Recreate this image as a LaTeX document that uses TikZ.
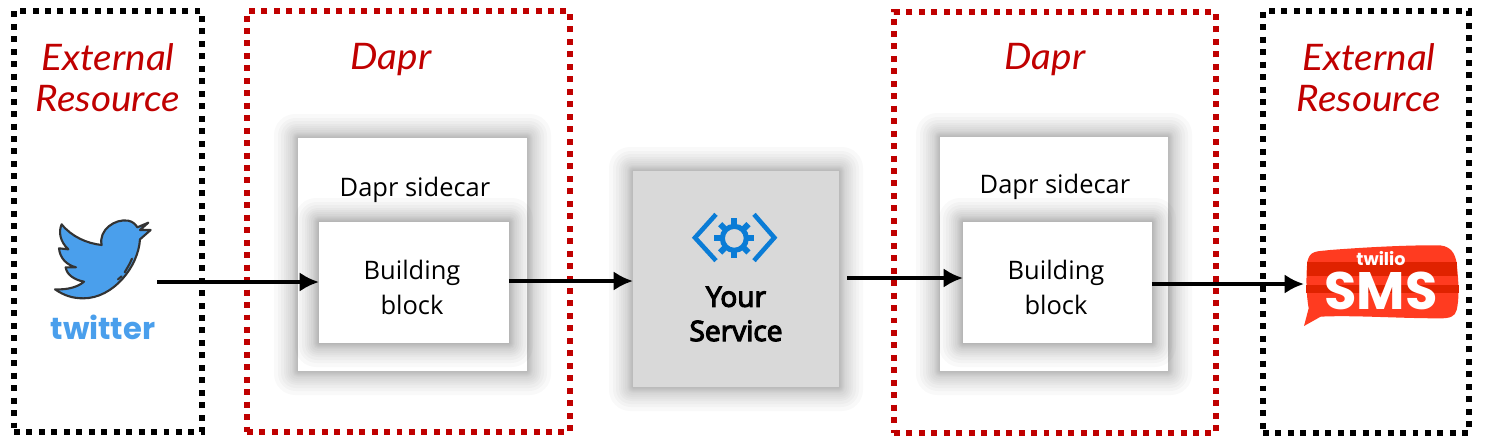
\documentclass[tikz,border=0pt]{standalone}
\usepackage{fontspec}
\setmainfont{Open Sans}
\newfontfamily\handfont[FakeStretch=1.06]{Lato}
\newfontfamily\logofont{Poppins}
\newfontfamily\semifont[FakeBold=4]{Open Sans}
\usetikzlibrary{arrows.meta}
\definecolor{daprred}{HTML}{C00000}
\definecolor{servicegray}{HTML}{D9D9D9}
\definecolor{gearblue}{HTML}{0A7CD6}
\definecolor{birdblue}{HTML}{4A9FEC}
\definecolor{smslight}{HTML}{FF3B20}
\definecolor{smsdark}{HTML}{E02200}
\tikzset{
  dotbox/.style={draw=black,line width=3.4pt,dash pattern=on 3.4pt off 3.69pt,inner sep=0pt,outer sep=0pt},
  softbox/.style={fill=white,inner sep=0pt,outer sep=0pt},
  label/.style={font=\fontsize{14.5}{19.5}\selectfont,align=center,inner sep=0pt},
  title/.style={font=\fontsize{20.8}{23.3}\selectfont\handfont\itshape,text=daprred,align=center,inner sep=0pt},
  flow/.style={->,line width=2.2pt},
  >={Latex[length=11pt,width=11pt]}
}
% soft shadow round a box, in picture units: left, top, right, bottom
\newcommand{\softshadow}[4]{
    \foreach \grow in {1,2,3,4,5,6,8,10,12,14,17,20,24}{
        \fill[black,opacity=0.025,rounded corners=\grow*0.5pt]({#1-\grow},{#2-\grow})rectangle({#3+\grow},{#4+\grow});
    }
}
\begin{document}
\begin{tikzpicture}[x=0.02cm,y=-0.02cm]
    \useasboundingbox(0,0)rectangle(1492,447);
    % dotted frames
    \node[dotbox,minimum width=3.76cm,minimum height=8.42cm](frameA)at(108,221.5){};
    \node[dotbox,draw=daprred,minimum width=6.46cm,minimum height=8.42cm](daprA)at(408.5,221.5){};
    \node[dotbox,draw=daprred,minimum width=6.44cm,minimum height=8.42cm](daprB)at(1055,222.5){};
    \node[dotbox,minimum width=4.12cm,minimum height=8.44cm](frameB)at(1366,222){};
    \node[title](extA)at(108,78){External\\Resource};
    \node[title](extB)at(1369,78){External\\Resource};
    \node[title](daprtextA)at(391,60){Dapr};
    \node[title](daprtextB)at(1045,60){Dapr};
    % sidecars
    \softshadow{298}{138}{527}{371}
    \node[softbox,minimum width=4.58cm,minimum height=4.66cm](carA)at(412.5,254.5){};
    \softshadow{940}{137}{1168}{371}
    \node[softbox,minimum width=4.56cm,minimum height=4.68cm](carB)at(1054,254){};
    \node[label](cartextA)at(415,190){Dapr sidecar};
    \node[label](cartextB)at(1055,187){Dapr sidecar};
    \softshadow{319}{222}{509}{343}
    \node[softbox,minimum width=3.8cm,minimum height=2.42cm](blockA)at(414,282.5){};
    \softshadow{963}{222}{1152}{343}
    \node[softbox,minimum width=3.78cm,minimum height=2.42cm](blockB)at(1057.5,282.5){};
    \node[label](blocktextA)at(412,287.5){Building\\block};
    \node[label](blocktextB)at(1056,287.5){Building\\block};
    % service
    \softshadow{633}{171}{839}{387}
    \node[softbox,fill=servicegray,minimum width=4.12cm,minimum height=4.32cm](service)at(736,279){};
    \node[label,font=\fontsize{16}{19.5}\selectfont\semifont](servicetext)at(736,314){Your\\Service};
    \begin{scope}[shift={(620,160)},x=0.00667cm,y=-0.00667cm]
        \draw[gearblue,line width=2.6pt](288,163)--(225,233)--(288,302);
        \draw[gearblue,line width=2.6pt](402,163)--(463,233)--(402,302);
        \draw[gearblue,line width=2.9pt](343,235)circle(36);
        \foreach \ang in {0,45,...,315}{
            \draw[gearblue,line width=3.4pt](343,235)++(\ang:36)--++(\ang:24);
        }
    \end{scope}
    % twitter
    \begin{scope}[shift={(0,180)},x=0.00667cm,y=-0.00667cm]
        \draw[fill=birdblue,draw=black!80,line width=1.2pt,line join=round](165,328)
            ..controls(205,330)and(235,320)..(252,305)
            ..controls(225,300)and(200,285)..(197,262)--(228,262)
            ..controls(200,255)and(180,235)..(177,205)--(205,208)
            ..controls(180,185)and(175,155)..(185,133)
            ..controls(215,170)and(260,190)..(305,195)
            ..controls(295,150)and(345,115)..(385,122)
            ..controls(400,125)and(408,135)..(412,142)--(445,128)--(420,150)--(452,150)--(420,178)
            ..controls(415,260)and(340,355)..(250,355)
            ..controls(215,355)and(190,345)..(165,328)--cycle;
        \draw[black!80,line width=1.2pt,line cap=round](396,236)..controls(390,250)..(374,277);
        \draw[black!80,line width=1.2pt,line cap=round](365,289)--(354,298);
    \end{scope}
    \node[inner sep=0pt,text=birdblue,font=\fontsize{17.4}{17.4}\selectfont\logofont\bfseries](twitter)at(103,327){twitter};
    % sms
    \begin{scope}[shift={(1280,220)},x=0.00667cm,y=-0.00667cm]
        \path[fill=smslight](82,125)..controls(90,90)and(110,95)..(150,90)
            ..controls(280,80)and(400,75)..(480,76)
            ..controls(520,80)and(530,110)..(532,150)
            ..controls(537,200)and(537,240)..(530,270)
            ..controls(525,290)and(510,295)..(480,295)
            ..controls(350,295)and(220,285)..(122,290)--(72,318)--(86,265)
            ..controls(78,220)and(78,170)..(82,125)--cycle;
        \path[fill=smsdark](81,125)rectangle(532,168);
        \path[fill=smsdark](79,195)rectangle(536,218);
    \end{scope}
    \node[inner sep=0pt,text=white,font=\fontsize{10}{10}\selectfont\logofont\bfseries](twilio)at(1381,259){twilio};
    \node[inner sep=0pt,text=white,font=\fontsize{30}{30}\selectfont\logofont\bfseries](sms)at(1381,291){SMS};
    \coordinate(smsin)at(1304,284);
    \coordinate(birdout)at(157,282);
    \coordinate(serviceout)at(847,278);
    % connectors
    \draw[flow](birdout)--(blockA.west|-birdout);
    \draw[flow](blockA.east|-0,281)--(service.west|-0,281);
    \draw[flow](serviceout)--(blockB.west|-serviceout);
    \draw[flow](blockB.east|-smsin)--(smsin);
\end{tikzpicture}
\end{document}
